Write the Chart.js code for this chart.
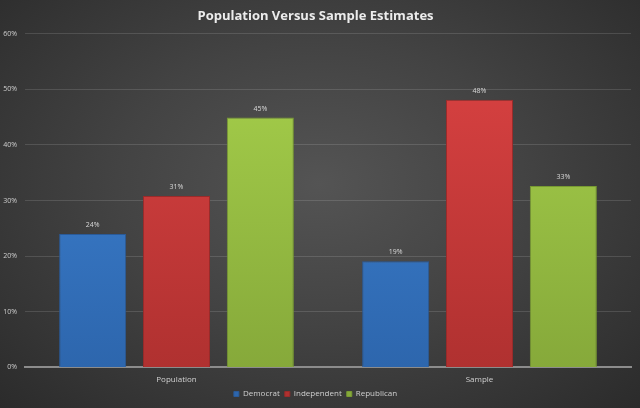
<!DOCTYPE html>
<html>
<head>
<meta charset="utf-8">
<script src="https://cdn.jsdelivr.net/npm/chart.js@4"></script>
<style>
  html, body { margin: 0; padding: 0; }
  body {
    width: 640px; height: 408px; overflow: hidden;
    background: radial-gradient(ellipse at 50% 45%, #545454 0%, #434343 45%, #2b2b2b 100%);
  }
  #wrap { position: relative; width: 640px; height: 408px; }
</style>
</head>
<body>
<div id="wrap"><canvas id="estimatesChart"></canvas></div>
<script>
// données
const categories = ['Population', 'Sample'];
const democrat = [24.0, 19.1];
const independent = [30.8, 48.1];
const republican = [44.9, 32.6];
const yTicks = [0, 10, 20, 30, 40, 50, 60];

// dégradé vertical pour donner le relief des barres
function barGradient(top, bottom) {
    return function (context) {
        const area = context.chart.chartArea;
        if (!area) return bottom;
        const g = context.chart.ctx.createLinearGradient(0, area.top, 0, area.bottom);
        g.addColorStop(0, top);
        g.addColorStop(1, bottom);
        return g;
    };
}

// étiquettes de valeur au-dessus des barres
const valueLabels = {
    id: 'valueLabels',
    afterDatasetsDraw(chart) {
        const ctx = chart.ctx;
        ctx.save();
        ctx.font = '7px "Open Sans", sans-serif';
        ctx.fillStyle = '#d8d8d8';
        ctx.textAlign = 'center';
        ctx.textBaseline = 'middle';
        chart.data.datasets.forEach((ds, i) => {
            chart.getDatasetMeta(i).data.forEach((bar, j) => {
                ctx.fillText(Math.round(ds.data[j]) + '%', bar.x, bar.y - 9);
            });
        });
        ctx.restore();
    }
};

new Chart(document.getElementById('estimatesChart'), {
    type: 'bar',
    data: {
        labels: categories,
        datasets: [
            {
                label: 'Democrat',
                data: democrat,
                backgroundColor: barGradient('#4086d8', '#2d66ad'),
                borderColor: '#2a5a98',
                borderWidth: 1
            },
            {
                label: 'Independent',
                data: independent,
                backgroundColor: barGradient('#dc4343', '#b03130'),
                borderColor: '#9a2b2a',
                borderWidth: 1
            },
            {
                label: 'Republican',
                data: republican,
                backgroundColor: barGradient('#a8d24c', '#86a93a'),
                borderColor: '#789a32',
                borderWidth: 1
            }
        ]
    },
    options: {
        responsive: true,
        maintainAspectRatio: false,
        animation: false,
        categoryPercentage: 0.83,
        barPercentage: 0.8,
        layout: { padding: { left: 0, right: 9, top: 0, bottom: 0 } },
        scales: {
            x: {
                grid: { display: false },
                border: { color: '#8c8c8c', width: 2 },
                ticks: { color: '#d0d0d0', font: { size: 8, family: '"Open Sans", sans-serif' }, padding: 0 }
            },
            y: {
                min: 0,
                max: 60,
                afterBuildTicks(scale) {
                    scale.ticks = yTicks.map(v => ({ value: v }));
                },
                afterFit(scale) { scale.width = 25; },
                border: { display: false },
                grid: { color: 'rgba(255, 255, 255, 0.13)', drawTicks: false },
                ticks: {
                    color: '#cfcfcf',
                    padding: 8,
                    font: { size: 7, family: '"Open Sans", sans-serif' },
                    callback: v => v + '%'
                }
            }
        },
        plugins: {
            title: {
                display: true,
                text: 'Population Versus Sample Estimates',
                color: '#ececec',
                font: { size: 13, weight: 'bold', family: '"Open Sans", sans-serif' },
                padding: { top: 8, bottom: 10 }
            },
            legend: {
                position: 'bottom',
                labels: {
                    color: '#d0d0d0',
                    font: { size: 8, family: '"Open Sans", sans-serif' },
                    boxWidth: 5,
                    boxHeight: 5,
                    padding: 5
                }
            },
            tooltip: { enabled: false }
        }
    },
    plugins: [valueLabels]
});
</script>
</body>
</html>
